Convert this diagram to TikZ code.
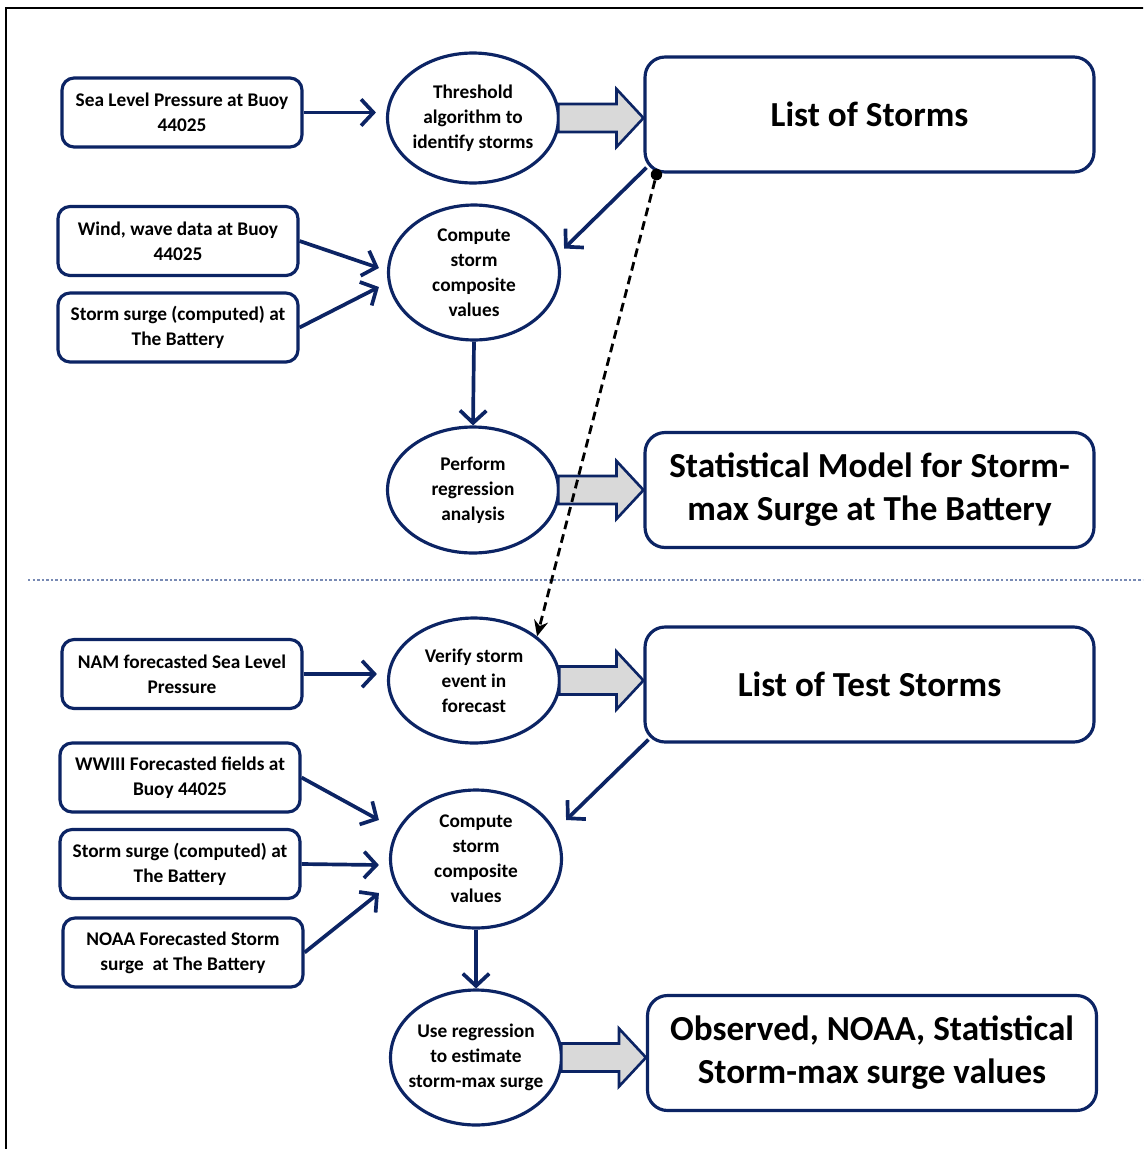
\documentclass[tikz,border=0pt]{standalone}
\usepackage{fontspec}
\setmainfont{Carlito}
\usepackage{xcolor}
\usetikzlibrary{arrows.meta,calc,shapes.geometric}

\definecolor{navy}{RGB}{12,36,100}
\definecolor{fatgray}{RGB}{217,217,217}
\definecolor{sepblue}{RGB}{120,138,180}

\tikzset{
  inbox/.style={draw=navy, line width=1.8pt, rounded corners=0.24cm, fill=white,
    minimum width=4.8cm, minimum height=1.38cm, inner sep=1pt, align=center,
    font=\fontsize{11}{14.2}\selectfont\bfseries},
  proc/.style={draw=navy, line width=1.8pt, ellipse, fill=white, inner sep=0pt,
    minimum width=3.42cm, minimum height=2.62cm, align=center,
    font=\fontsize{11}{14.2}\selectfont\bfseries},
  outbox/.style={draw=navy, line width=1.8pt, rounded corners=0.4cm, fill=white,
    minimum width=8.98cm, minimum height=2.3cm, inner sep=1pt, align=center,
    font=\fontsize{20}{24.5}\selectfont\bfseries},
  link/.style={draw=navy, line width=2.1pt, -{Straight Barb[length=7pt,width=15pt]}},
  fatarr/.style={draw=navy, line width=1.5pt, fill=fatgray, line join=miter},
}

% fat grey arrow from a process to its result box
\newcommand{\fatarrow}[2]{%
  \draw[fatarr] let \p1=(#1.east), \p2=(#2.west) in
    (\x1-1pt,\y1+0.28cm) -- (\x2-0.54cm,\y1+0.28cm) -- (\x2-0.54cm,\y1+0.58cm)
    -- (\x2,\y1) -- (\x2-0.54cm,\y1-0.58cm) -- (\x2-0.54cm,\y1-0.28cm)
    -- (\x1-1pt,\y1-0.28cm) -- cycle;}

\begin{document}
\begin{tikzpicture}[x=0.02cm, y=-0.02cm, >=stealth]

  \useasboundingbox (0,0) rectangle (1143,1149);
  \clip (0,0) rectangle (1143,1149);

  % --- frame ---
  \draw[line width=1.7pt] (6,1170) -- (6,8) -- (1170,8);

  % --- column positions ---
  \def\xleft{180}
  \def\xmid{474}
  \def\xright{870}

  % ============================================================
  % Calibration part
  % ============================================================
  \node[inbox] (slp) at (182,112.5) {Sea Level Pressure at Buoy\\44025};
  \node[inbox] (wind) at (178,241) {Wind, wave data at Buoy\\44025};
  \node[inbox] (surge) at (178,327.5) {Storm surge (computed) at\\The Battery};

  \node[proc, minimum height=2.6cm] (thresh) at (473,118) {Threshold\\algorithm to\\identify storms};
  \node[proc, minimum height=2.7cm] (comp) at (\xmid,272.5) {Compute\\storm\\composite\\values};
  \node[proc, minimum height=2.52cm] (regr) at (473,490) {Perform\\regression\\analysis};

  \node[outbox] (storms) at (869.5,114.5) {List of Storms};
  \node[outbox] (model) at (869.5,490) {Statistical Model for Storm-\\max Surge at The Battery};

  \draw[link] (slp.east) -- ($(slp.east -| thresh.west)+(-10,0)$);
  \draw[link] (wind.east) -- ($(comp.west)+(-8,-4.5)$);
  \draw[link] (surge.east) -- ($(comp.west)+(-8,14.5)$);
  \draw[link] ($(storms.south west)+(3,-6)$) -- ($(comp.east)+(3,-24)$);
  \draw[link] (comp.south) -- (regr.north);

  \fatarrow{thresh}{storms}
  \fatarrow{regr}{model}

  % --- separator ---
  \draw[sepblue, line width=0.9pt, dash pattern=on 1.4pt off 1.2pt] (28,580) -- (1143,580);

  % ============================================================
  % Forecast part
  % ============================================================
  \node[inbox] (nam) at (182,674) {NAM forecasted Sea Level\\Pressure};
  \node[inbox] (ww3) at (180,777.5) {WWIII Forecasted fields at\\Buoy 44025};
  \node[inbox] (surgeb) at (180,864) {Storm surge (computed) at\\The Battery};
  \node[inbox] (noaa) at (183,952.5) {NOAA Forecasted Storm\\surge~ at The Battery};

  \node[proc, minimum height=2.5cm] (verify) at (\xmid,680.5) {Verify storm\\event in\\forecast};
  \node[proc, minimum height=2.76cm] (compb) at (476,859) {Compute\\storm\\composite\\values};
  \node[proc, minimum height=2.7cm, inner xsep=-0.25cm] (use) at (476,1057.5) {Use regression\\to estimate\\storm-max surge};

  \node[outbox] (test) at (869.5,684.5) {List of Test Storms};
  \node[outbox] (obs) at (872,1053) {Observed, NOAA, Statistical\\Storm-max surge values};

  \draw[link] (nam.east) -- ($(nam.east -| verify.west)+(-10,0)$);
  \draw[link] (ww3.east) -- ($(compb.west)+(-10,-39)$);
  \draw[link] (surgeb.east) -- ($(compb.west)+(-10,6)$);
  \draw[link] (noaa.east) -- ($(compb.west)+(-10,34)$);
  \draw[link] ($(test.south west)+(5,-4)$) -- ($(compb.east)+(3,-39)$);
  \draw[link] (compb.south) -- (use.north);

  \fatarrow{verify}{test}
  \fatarrow{use}{obs}

  % --- storm list reused for verification ---
  \node[circle, fill=black, inner sep=0pt, minimum size=6.5pt] (dot) at ($(storms.south west)+(13,1)$) {};
  \draw[line width=1.6pt, dash pattern=on 5pt off 3pt, -{Stealth[length=9pt,width=8pt]}] (dot) -- (verify.35);

\end{tikzpicture}
\end{document}
